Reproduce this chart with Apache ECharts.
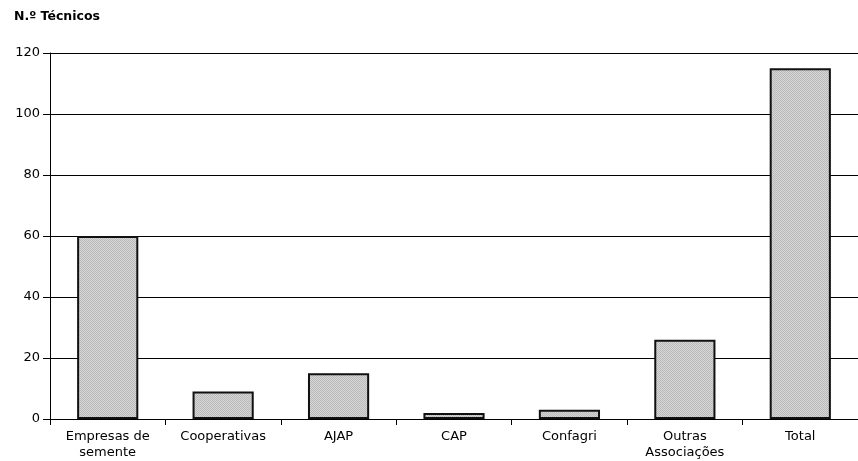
<!DOCTYPE html>
<html><head><meta charset="utf-8">
<script src="https://cdn.jsdelivr.net/npm/echarts@6/dist/echarts.min.js"></script>
<style>html,body{margin:0;padding:0;background:#fff;overflow:hidden}#c{width:858px;height:461px}</style>
</head><body><div id="c"></div>
<script>
const categories = ['Empresas de\nsemente', 'Cooperativas', 'AJAP', 'CAP', 'Confagri', 'Outras\nAssociações', 'Total'];
const values = [60, 9, 15, 2, 3, 26, 115];
const yTicks = { min: 0, max: 120, interval: 20 };

const pat = document.createElement('canvas');
pat.width = 2; pat.height = 2;
const pc = pat.getContext('2d');
pc.fillStyle = '#d6d6d6'; pc.fillRect(0, 0, 2, 2);
pc.fillStyle = '#bababa'; pc.fillRect(0, 0, 1, 1); pc.fillRect(1, 1, 1, 1);

const chart = echarts.init(document.getElementById('c'));
chart.setOption({
  animation: false,
  title: { text: 'N.º Técnicos', left: 9, top: 5, textStyle: { fontFamily: 'DejaVu Sans', fontSize: 12.5, fontWeight: 'bold', color: '#000' } },
  grid: { left: 50, right: -9, top: 53, bottom: 41 },
  xAxis: {
    type: 'category', data: categories,
    axisLine: { lineStyle: { color: '#000', width: 1 } },
    axisTick: { show: true, alignWithLabel: false, length: 6, lineStyle: { color: '#000' } },
    axisLabel: { color: '#000', fontFamily: 'DejaVu Sans', fontSize: 13, margin: 10, lineHeight: 16, interval: 0 }
  },
  yAxis: {
    type: 'value', min: yTicks.min, max: yTicks.max, interval: yTicks.interval,
    axisLine: { show: true, lineStyle: { color: '#000', width: 1 } },
    axisTick: { show: true, length: 7, lineStyle: { color: '#000' } },
    axisLabel: { color: '#000', fontFamily: 'DejaVu Sans', fontSize: 13, margin: 10 },
    splitLine: { show: true, lineStyle: { color: '#000', width: 1 } }
  },
  series: [{
    type: 'bar', data: values, barCategoryGap: '47%',
    itemStyle: { color: { image: pat, repeat: 'repeat' }, borderColor: '#111', borderWidth: 2 }
  }]
});
</script></body></html>
